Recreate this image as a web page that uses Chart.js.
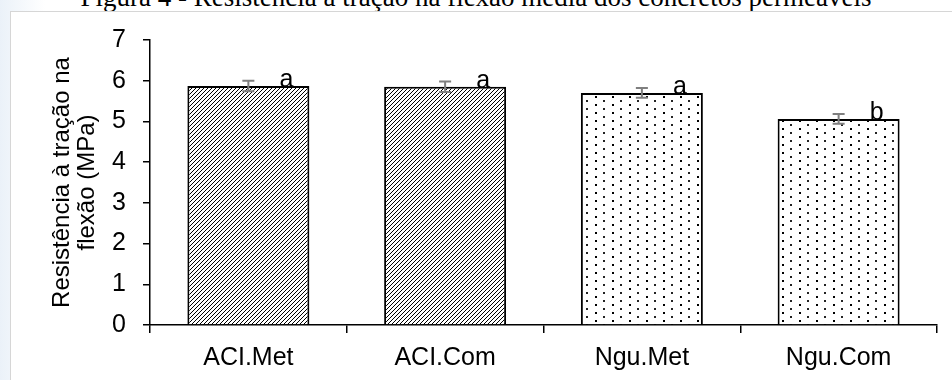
<!DOCTYPE html>
<html>
<head>
<meta charset="utf-8">
<script src="https://cdn.jsdelivr.net/npm/chart.js@4/dist/chart.umd.min.js"></script>
<style>
  body { margin: 0; background: #fff; }
  #pagina { position: relative; width: 952px; height: 380px; overflow: hidden;
    background: linear-gradient(to right, rgba(226,236,246,0.7) 0px, rgba(255,255,255,0) 45px); }
  #titulo { position: absolute; left: 0; top: -16px; width: 952px; text-align: center;
    font: 27px 'Liberation Serif', 'Times New Roman', serif; line-height: 27px; color: #000; white-space: nowrap; }
  #moldura { position: absolute; left: 10px; top: 11px; right: 0; bottom: 0;
    border-left: 1px solid #d6d6d6; border-top: 1px solid #d6d6d6; background: #fff; }
  #grafico { position: absolute; left: 0; top: 0; }
</style>
</head>
<body>
<div id="pagina">
  <div id="titulo">Figura 4 - Resistência à tração na flexão média dos concretos permeáveis</div>
  <div id="moldura"></div>
  <canvas id="grafico" width="952" height="380"></canvas>
</div>
<script>
// Dados do gráfico
const categorias = ['ACI.Met', 'ACI.Com', 'Ngu.Met', 'Ngu.Com'];
const resistencia = [5.87, 5.85, 5.70, 5.06];   // MPa
const desvio = [0.13, 0.13, 0.12, 0.12];        // barras de erro
const letras = ['a', 'a', 'a', 'b'];
const ticksY = [0, 1, 2, 3, 4, 5, 6, 7];

const fonte = "'Liberation Sans', Arial, sans-serif";

// Padrão hachurado (diagonal)
const hachura = () => {
    const c = document.createElement('canvas');
    c.width = 4; c.height = 4;
    const g = c.getContext('2d');
    g.fillStyle = '#fff';
    g.fillRect(0, 0, 4, 4);
    g.strokeStyle = '#000';
    g.lineWidth = 1;
    g.beginPath();
    g.moveTo(0, 4); g.lineTo(4, 0);
    g.moveTo(-1, 1); g.lineTo(1, -1);
    g.moveTo(3, 5); g.lineTo(5, 3);
    g.stroke();
    return g.createPattern(c, 'repeat');
};

// Padrão pontilhado
const pontilhado = () => {
    const c = document.createElement('canvas');
    c.width = 17; c.height = 8;
    const g = c.getContext('2d');
    g.fillStyle = '#fff';
    g.fillRect(0, 0, 17, 8);
    g.fillStyle = '#000';
    g.fillRect(0, 0, 2, 2);
    g.fillStyle = '#222';
    g.fillRect(8, 4, 2, 2);
    return g.createPattern(c, 'repeat');
};

const hach = hachura();
const pont = pontilhado();

// Plugin: barras de erro e letras
const barrasErro = {
    id: 'barrasErro',
    afterDatasetsDraw(chart) {
        const { ctx, scales: { y } } = chart;
        const meta = chart.getDatasetMeta(0);
        ctx.save();
        meta.data.forEach((barra, i) => {
            const x = barra.x;
            const yAlto = y.getPixelForValue(resistencia[i] + desvio[i]);
            const yBaixo = y.getPixelForValue(resistencia[i] - desvio[i]);
            ctx.strokeStyle = '#7f7f7f';
            ctx.lineWidth = 2;
            ctx.beginPath();
            ctx.moveTo(x, yAlto); ctx.lineTo(x, yBaixo);
            ctx.moveTo(x - 6, yAlto); ctx.lineTo(x + 6, yAlto);
            ctx.moveTo(x - 6, yBaixo); ctx.lineTo(x + 6, yBaixo);
            ctx.stroke();

            ctx.fillStyle = '#000';
            ctx.font = '25px ' + fonte;
            ctx.textAlign = 'center';
            ctx.textBaseline = 'alphabetic';
            ctx.fillText(letras[i], x + 38, y.getPixelForValue(resistencia[i]) + 1);
        });
        ctx.restore();
    }
};

const ctx = document.getElementById('grafico').getContext('2d');
const grafico = new Chart(ctx, {
    type: 'bar',
    data: {
        labels: categorias,
        datasets: [{
            data: resistencia,
            backgroundColor: [hach, hach, pont, pont],
            borderColor: '#000',
            borderWidth: 2,
            barPercentage: 0.62,
            categoryPercentage: 1
        }]
    },
    options: {
        responsive: false,
        animation: false,
        layout: { padding: { left: 50, top: 40, right: 15, bottom: 0 } },
        plugins: {
            legend: { display: false },
            tooltip: { enabled: false }
        },
        scales: {
            x: {
                grid: { drawOnChartArea: false, tickLength: 8, color: '#000', lineWidth: 1.5, offset: true },
                border: { color: '#000', width: 1.5 },
                ticks: { color: '#000', font: { family: fonte, size: 25 }, padding: 10, maxRotation: 0 },
                afterFit: (s) => { s.height = 55; }
            },
            y: {
                min: ticksY[0],
                max: ticksY[ticksY.length - 1],
                afterBuildTicks: (s) => { s.ticks = ticksY.map(v => ({ value: v })); },
                grid: { drawOnChartArea: false, tickLength: 7, color: '#000', lineWidth: 1.5 },
                border: { color: '#000', width: 1.5 },
                ticks: { color: '#000', font: { family: fonte, size: 25 }, padding: 17 },
                title: {
                    display: true,
                    text: ['Resistência à tração na', 'flexão (MPa)'],
                    color: '#000',
                    font: { family: fonte, size: 24, lineHeight: 25 / 24 },
                    padding: 0
                },
                afterFit: (s) => { s.width = 100; }
            }
        }
    },
    plugins: [barrasErro]
});
</script>
</body>
</html>
